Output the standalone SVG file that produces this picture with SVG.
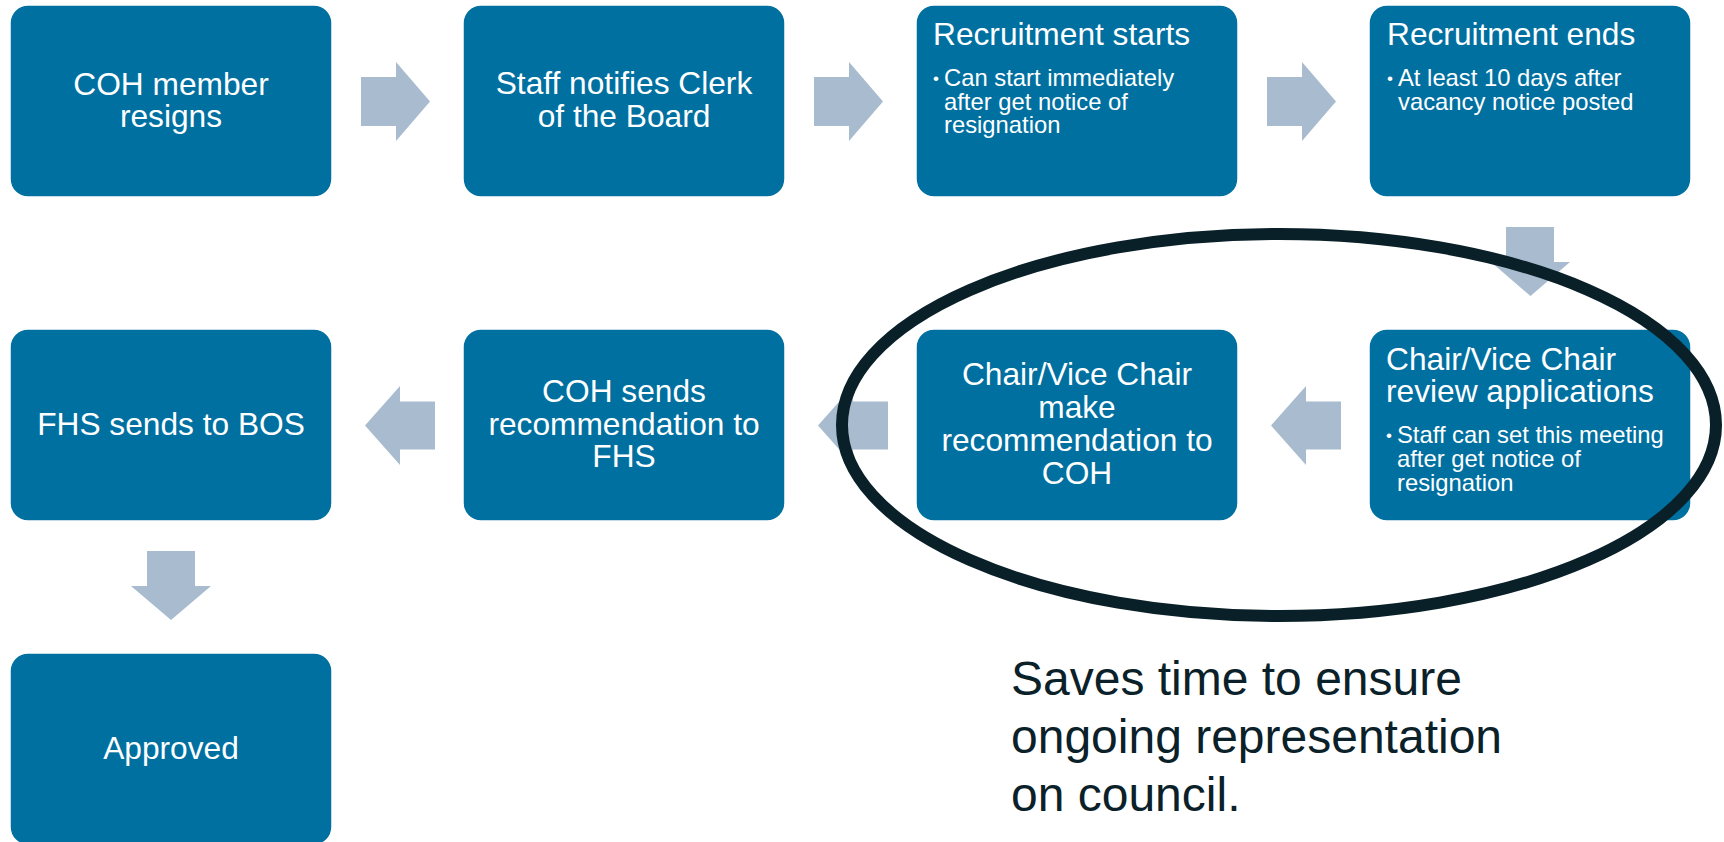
<svg xmlns="http://www.w3.org/2000/svg" width="1724" height="842" viewBox="0 0 1724 842">
<style>
.box{fill:#0070A1;stroke:#ffffff;stroke-width:1.5}
.arr{fill:#A9BBCE}
.t{font-family:"Liberation Sans",Arial,sans-serif;fill:#ffffff;font-size:31.7px}
.c{text-anchor:middle}
.b{font-family:"Liberation Sans",Arial,sans-serif;fill:#ffffff;font-size:23.8px}
.dot{font-size:17px}
.note{font-family:"Liberation Sans",Arial,sans-serif;fill:#0B2129;font-size:48px}
.ring{fill:none;stroke:#0A2028;stroke-width:12}
</style>
<rect width="1724" height="842" fill="#ffffff"/>
<g id="connectors">
<polygon class="arr" points="361,77 396,77 396,62 430,101.5 396,141 396,126 361,126"/>
<polygon class="arr" points="814,77 849,77 849,62 883,101.5 849,141 849,126 814,126"/>
<polygon class="arr" points="1267,77 1302,77 1302,62 1336,101.5 1302,141 1302,126 1267,126"/>
<polygon class="arr" points="1506,227 1554,227 1554,262 1570,262 1530.5,296 1491,262 1506,262"/>
<polygon class="arr" points="1341,401.5 1306,401.5 1306,386 1271,425.5 1306,465 1306,449.5 1341,449.5"/>
<polygon class="arr" points="888,401.5 853,401.5 853,386 818,425.5 853,465 853,449.5 888,449.5"/>
<polygon class="arr" points="435,401.5 400,401.5 400,386 365,425.5 400,465 400,449.5 435,449.5"/>
<polygon class="arr" points="147,551 195,551 195,586 211,586 171,620 131,586 147,586"/>
</g>
<g id="n1">
<rect class="box" x="10" y="5" width="322" height="192" rx="18"/>
<text class="t c" x="171" y="94.5">COH member</text>
<text class="t c" x="171" y="127">resigns</text>
</g>
<g id="n2">
<rect class="box" x="463" y="5" width="322" height="192" rx="18"/>
<text class="t c" x="624" y="94.3">Staff notifies Clerk</text>
<text class="t c" x="624" y="126.7">of the Board</text>
</g>
<g id="n3">
<rect class="box" x="916" y="5" width="322" height="192" rx="18"/>
<text class="t" x="933" y="45">Recruitment starts</text>
<text class="b" x="933" y="86"><tspan class="dot" dy="-2">•</tspan><tspan x="944" dy="2">Can start immediately</tspan></text>
<text class="b" x="944" y="109.5">after get notice of</text>
<text class="b" x="944" y="133">resignation</text>
</g>
<g id="n4">
<rect class="box" x="1369" y="5" width="322" height="192" rx="18"/>
<text class="t" x="1387" y="45">Recruitment ends</text>
<text class="b" x="1387" y="86"><tspan class="dot" dy="-2">•</tspan><tspan x="1398" dy="2">At least 10 days after</tspan></text>
<text class="b" x="1398" y="109.5">vacancy notice posted</text>
</g>
<g id="n5">
<rect class="box" x="1369" y="329" width="322" height="192" rx="18"/>
<text class="t" x="1386" y="370">Chair/Vice Chair</text>
<text class="t" x="1386" y="402.3">review applications</text>
<text class="b" x="1386" y="443.3"><tspan class="dot" dy="-2">•</tspan><tspan x="1397" dy="2">Staff can set this meeting</tspan></text>
<text class="b" x="1397" y="467">after get notice of</text>
<text class="b" x="1397" y="490.7">resignation</text>
</g>
<g id="n6">
<rect class="box" x="916" y="329" width="322" height="192" rx="18"/>
<text class="t c" x="1077" y="385.4">Chair/Vice Chair</text>
<text class="t c" x="1077" y="418.1">make</text>
<text class="t c" x="1077" y="450.8">recommendation to</text>
<text class="t c" x="1077" y="483.5">COH</text>
</g>
<g id="n7">
<rect class="box" x="463" y="329" width="322" height="192" rx="18"/>
<text class="t c" x="624" y="401.8">COH sends</text>
<text class="t c" x="624" y="434.5">recommendation to</text>
<text class="t c" x="624" y="467.2">FHS</text>
</g>
<g id="n8">
<rect class="box" x="10" y="329" width="322" height="192" rx="18"/>
<text class="t c" x="171" y="434.5">FHS sends to BOS</text>
</g>
<g id="n9">
<rect class="box" x="10" y="653" width="322" height="192" rx="18"/>
<text class="t c" x="171" y="758.5">Approved</text>
</g>
<g id="highlight">
<ellipse class="ring" cx="1279" cy="425" rx="437" ry="191"/>
</g>
<g id="note">
<text class="note" x="1011" y="695">Saves time to ensure</text>
<text class="note" x="1011" y="753">ongoing representation</text>
<text class="note" x="1011" y="811">on council.</text>
</g>
</svg>
